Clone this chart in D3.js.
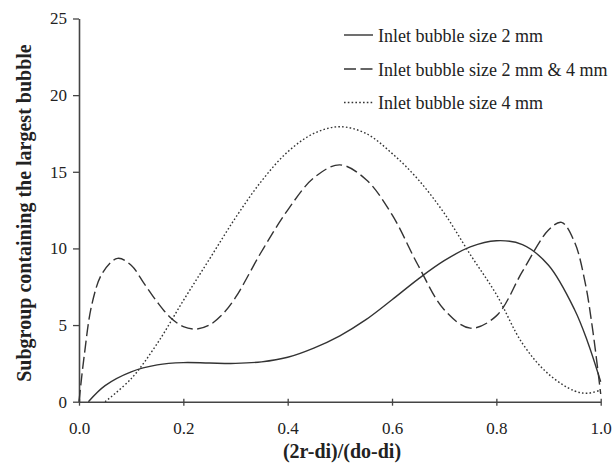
<!DOCTYPE html>
<html>
<head>
<meta charset="utf-8">
<script src="https://cdn.jsdelivr.net/npm/d3@7/dist/d3.min.js"></script>
<style>
body { margin: 0; background: #fff; }
svg { display: block; }
text { font-family: "Liberation Serif", "Times New Roman", serif; fill: #222; }
</style>
</head>
<body>
<svg id="chart" width="615" height="468"></svg>
<script>
// Data
const xTicks = [0.0, 0.2, 0.4, 0.6, 0.8, 1.0];
const yTicks = [0, 5, 10, 15, 20, 25];

const seriesNames = ["Inlet bubble size 2 mm", "Inlet bubble size 2 mm & 4 mm", "Inlet bubble size 4 mm"];

const solid2mm = [
  [0.018, 0], [0.05, 1.05], [0.1, 1.95], [0.15, 2.4], [0.2, 2.55], [0.25, 2.52], [0.3, 2.5],
  [0.35, 2.6], [0.4, 2.9], [0.45, 3.5], [0.5, 4.3], [0.55, 5.35], [0.6, 6.65], [0.65, 8.0],
  [0.7, 9.2], [0.75, 10.1], [0.8, 10.5], [0.85, 10.25], [0.9, 8.9], [0.95, 6.0],
  [0.975, 3.9], [1.0, 1.3]
];

const dashedMix = [
  [0.0, 0], [0.01, 3.0], [0.025, 6.4], [0.045, 8.4], [0.074, 9.35], [0.1, 8.9], [0.125, 7.7],
  [0.15, 6.5], [0.175, 5.5], [0.2, 4.9], [0.225, 4.74], [0.25, 5.0], [0.275, 5.7], [0.3, 6.8],
  [0.35, 9.8], [0.4, 12.5], [0.45, 14.6], [0.5, 15.45], [0.55, 14.5], [0.6, 12.2],
  [0.65, 8.9], [0.7, 6.0], [0.75, 4.8], [0.8, 5.6], [0.85, 8.5], [0.9, 11.2], [0.925, 11.7],
  [0.95, 10.4], [0.97, 7.8], [0.985, 4.6], [1.0, 0.5]
];

const dotted4mm = [
  [0.05, 0], [0.1, 1.5], [0.15, 3.8], [0.2, 6.6], [0.25, 9.3], [0.3, 12.0], [0.35, 14.4],
  [0.4, 16.3], [0.45, 17.5], [0.5, 17.94], [0.55, 17.5], [0.6, 16.2], [0.65, 14.5],
  [0.7, 12.3], [0.75, 9.6], [0.8, 7.0], [0.85, 3.8], [0.9, 1.8], [0.95, 0.7], [0.975, 0.55],
  [1.0, 0.76]
];

const svg = d3.select("#chart");
const x = d3.scaleLinear().domain([0, 1]).range([79, 600.7]);
const y = d3.scaleLinear().domain([0, 25]).range([401.7, 18.5]);

const ink = "#333";

// Axes
const xAxis = svg.append("g")
  .attr("transform", `translate(0,${y(0)})`)
  .call(d3.axisBottom(x).tickValues(xTicks).tickFormat(d3.format(".1f")).tickSize(4).tickSizeOuter(0).tickPadding(16));
xAxis.selectAll(".tick line").attr("y1", -3).attr("y2", 4);
const yAxis = svg.append("g")
  .attr("transform", `translate(${x(0)},0)`)
  .call(d3.axisLeft(y).tickValues(yTicks).tickSize(6).tickSizeOuter(0).tickPadding(6));

[xAxis, yAxis].forEach(g => {
  g.select(".domain").attr("stroke", "#444").attr("stroke-width", 1.6);
  g.selectAll(".tick line").attr("stroke", "#444").attr("stroke-width", 1.3);
  g.selectAll(".tick text").style("font-family", "Liberation Serif, serif").style("font-size", "17px").attr("fill", "#222");
});

// Lines
const line = d3.line().x(d => x(d[0])).y(d => y(d[1])).curve(d3.curveCatmullRom.alpha(0.5));
const styles = [
  { data: solid2mm, dash: null, w: 1.4 },
  { data: dashedMix, dash: "12,4.5", w: 1.4 },
  { data: dotted4mm, dash: "1.6,2.2", w: 1.4 }
];
styles.forEach(s => {
  svg.append("path").datum(s.data).attr("d", line)
    .attr("fill", "none").attr("stroke", ink).attr("stroke-width", s.w)
    .attr("stroke-dasharray", s.dash);
});

// Legend
const legendY = [35, 69, 102.5];
const lg = svg.append("g");
seriesNames.forEach((name, i) => {
  lg.append("line").attr("x1", 344).attr("x2", 373).attr("y1", legendY[i]).attr("y2", legendY[i])
    .attr("stroke", ink).attr("stroke-width", 1.4).attr("stroke-dasharray", styles[i].dash);
  lg.append("text").attr("x", 378).attr("y", legendY[i] + 6.5)
    .style("font-size", "18px").text(name);
});

// Axis titles
svg.append("text").attr("x", 342).attr("y", 458).attr("text-anchor", "middle")
  .style("font-size", "20px").style("font-weight", "bold").text("(2r-di)/(do-di)");
svg.append("text").attr("transform", "translate(31,213) rotate(-90)").attr("text-anchor", "middle")
  .style("font-size", "20px").style("font-weight", "bold").text("Subgroup containing the largest bubble");
</script>
</body>
</html>
